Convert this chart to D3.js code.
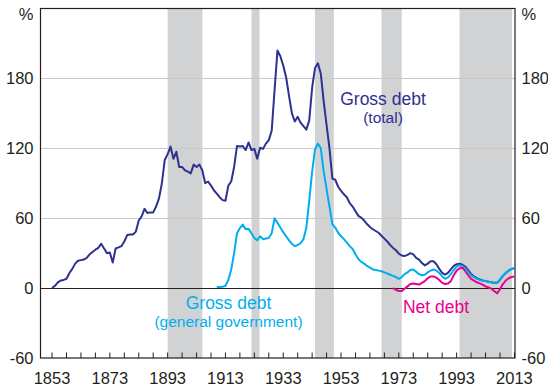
<!DOCTYPE html>
<html>
<head>
<meta charset="utf-8">
<script src="https://cdn.jsdelivr.net/npm/d3@7/dist/d3.min.js"></script>
<style>
  html, body { margin: 0; padding: 0; background: #fff; }
  svg { display: block; font-family: "Liberation Sans", Arial, sans-serif; }
</style>
</head>
<body>
<svg id="chart" width="548" height="387"></svg>
<script>
// Shaded periods [start, end]
const shadedPeriods = [[1893, 1905], [1922, 1924.8], [1944, 1950.5], [1967, 1974], [1994, 2012.2]];

// Gross debt (total), per cent, annual from 1853
const grossTotalStart = 1853;
const grossTotal = [
  0, 2, 5, 6.5, 7, 8, 13, 16.5, 21, 23.5,
  24, 24.5, 26, 29, 31, 33, 34.5, 38, 34, 30,
  30.5, 22, 34, 35, 36, 40, 45.5, 46, 46, 48.5,
  58, 61.5, 68, 64.5, 65, 65, 70, 77, 90, 110,
  115, 121.5, 111, 117, 104, 104, 101, 100, 98.5, 106,
  104, 106, 101, 90, 91.5, 88, 84, 81, 78, 75.5,
  75, 88, 91.5, 104, 122, 121.5, 122, 118.5, 125, 118.5,
  119.5, 111, 120.5, 119.5, 124, 127, 135, 170, 204, 199,
  191, 181, 165, 150, 143, 147, 142, 139, 136, 144,
  172, 189, 193, 184, 160, 140, 120, 94, 93, 87,
  83.5, 80.5, 78, 73, 70, 66, 62, 60.5, 58, 55,
  52.5, 50.5, 49, 47.5, 45, 42.5, 40, 37, 34.5, 32.5,
  29.5, 28, 27.5, 28.5, 30, 29, 26, 24.5, 21.5, 19.5,
  21, 23, 23, 20.5, 16.5, 13, 11.5, 13, 16, 19,
  20.5, 21, 20, 18.5, 15.5, 12, 10, 8.5, 7.5, 6.5,
  6, 5.5, 5, 4.5, 4.5, 7, 10.5, 13, 15, 16.5,
  17
];

// Gross debt (general government), per cent, annual from 1910
const grossGovStart = 1910;
const grossGov = [
  1, 1, 1.2, 2, 7, 16, 30, 47, 51.5, 54.5,
  50.5, 51, 47, 43, 41, 44.5, 42, 42.5, 43, 47,
  60, 56, 52, 48, 44.5, 41, 38, 36, 37, 38.5,
  42, 52, 75, 100, 119, 124, 120, 100, 85, 70,
  55, 52, 47.5, 44.5, 42, 39, 36, 33.5, 29, 25,
  22.5, 21, 19, 17.5, 16, 15.5, 15, 14.5, 13.5, 12.5,
  11.5, 10.5, 9.5, 8, 9.5, 12, 13.5, 15.5, 16, 14,
  12, 11, 11.5, 13.5, 15, 16, 15, 13, 10, 8,
  9, 12, 15.5, 18.5, 19.5, 19, 17, 14, 11, 9.5,
  8, 7, 6.5, 6, 5.5, 5, 4.5, 4.5, 7, 10.5,
  13, 15, 16.5, 17
];

// Net debt, per cent, annual from 1971
const netDebtStart = 1971;
const netDebt = [
  0, -1.5, -2.5, -2.5, -0.5, 1.5, 3.5, 4, 3.5, 3,
  4.5, 6, 8.5, 10, 10, 9, 7, 4.5, 3.5, 4,
  6, 11, 15, 17, 17.5, 14.5, 11, 8, 6.5, 5,
  4, 3, 1.5, 0.5, -0.5, -2.5, -4.5, -1, 3.5, 6.5,
  8.5, 9.5, 10
];

const yTicks = [-60, 0, 60, 120, 180];
const xLabelYears = [1853, 1873, 1893, 1913, 1933, 1953, 1973, 1993, 2013];

const colors = { total: "#2e3192", gov: "#00aeef", net: "#ec008c", band: "#d1d2d4", grid: "#c9c9c9", text: "#231f20" };

const svg = d3.select("#chart");
const plotL = 40.5, plotR = 515, plotT = 8.5, plotB = 358;

const x = d3.scaleLinear().domain([1849, 2013.2]).range([plotL, plotR]);
const y = d3.scaleLinear().domain([-60, 240]).range([plotB, plotT]);

// Shaded bands
svg.append("g").selectAll("rect").data(shadedPeriods).join("rect")
  .attr("x", d => x(d[0])).attr("width", d => x(d[1]) - x(d[0]))
  .attr("y", plotT).attr("height", plotB - plotT)
  .attr("fill", colors.band);

// Horizontal gridlines
svg.append("g").selectAll("line").data(yTicks.filter(v => v > 0)).join("line")
  .attr("x1", plotL).attr("x2", plotR)
  .attr("y1", d => Math.round(y(d)) + 0.5).attr("y2", d => Math.round(y(d)) + 0.5)
  .attr("stroke", colors.grid).attr("stroke-width", 1);

// Zero line
svg.append("line")
  .attr("x1", plotL).attr("x2", plotR)
  .attr("y1", Math.round(y(0)) + 0.5).attr("y2", Math.round(y(0)) + 0.5)
  .attr("stroke", "#231f20").attr("stroke-width", 1.2);

// Frame
svg.append("rect")
  .attr("x", plotL).attr("y", plotT).attr("width", plotR - plotL).attr("height", plotB - plotT)
  .attr("fill", "none").attr("stroke", "#231f20").attr("stroke-width", 1.2);

// Bottom ticks every 5 years, drawn inward
const tickYears = d3.range(1853, 2014, 5);
svg.append("g").selectAll("line").data(tickYears).join("line")
  .attr("x1", d => x(d)).attr("x2", d => x(d))
  .attr("y1", plotB).attr("y2", plotB - 5.5)
  .attr("stroke", "#231f20").attr("stroke-width", 1);

// Series lines
const toPoints = (start, vals) => vals.map((v, i) => [start + i, v]);
const line = d3.line().x(d => x(d[0])).y(d => y(d[1]));

const series = [
  { pts: toPoints(grossTotalStart, grossTotal), color: colors.total },
  { pts: toPoints(grossGovStart, grossGov), color: colors.gov },
  { pts: toPoints(netDebtStart, netDebt), color: colors.net }
];
svg.append("g").selectAll("path").data(series).join("path")
  .attr("d", d => line(d.pts))
  .attr("fill", "none").attr("stroke", d => d.color)
  .attr("stroke-width", 2).attr("stroke-linejoin", "round");

// Axis labels
const labelFont = 16.5;
const leftLab = svg.append("g").attr("font-size", labelFont).attr("fill", colors.text);
leftLab.selectAll("text").data(yTicks).join("text")
  .attr("x", 33.5).attr("y", d => y(d)).attr("dy", "0.36em")
  .attr("text-anchor", "end").text(d => d);
leftLab.append("text").attr("x", 33.5).attr("y", 19.5).attr("text-anchor", "end").text("%");

const rightLab = svg.append("g").attr("font-size", labelFont).attr("fill", colors.text);
rightLab.selectAll("text").data(yTicks).join("text")
  .attr("x", 521.5).attr("y", d => y(d)).attr("dy", "0.36em")
  .attr("text-anchor", "start").text(d => d);
rightLab.append("text").attr("x", 521.5).attr("y", 19.5).attr("text-anchor", "start").text("%");

svg.append("g").attr("font-size", labelFont).attr("fill", colors.text)
  .selectAll("text").data(xLabelYears).join("text")
  .attr("x", d => x(d)).attr("y", 384).attr("text-anchor", "middle").text(d => d);

// Series annotations
const notes = [
  { x: 383, y: 105, size: 17.5, color: colors.total, text: "Gross debt" },
  { x: 383, y: 123, size: 15.5, color: colors.total, text: "(total)" },
  { x: 228.5, y: 309, size: 17.5, color: colors.gov, text: "Gross debt" },
  { x: 228.5, y: 327, size: 15.5, color: colors.gov, text: "(general government)" },
  { x: 436, y: 312.5, size: 17.5, color: colors.net, text: "Net debt" }
];
svg.append("g").selectAll("text").data(notes).join("text")
  .attr("x", d => d.x).attr("y", d => d.y).attr("font-size", d => d.size)
  .attr("fill", d => d.color).attr("text-anchor", "middle").text(d => d.text);
</script>
</body>
</html>
